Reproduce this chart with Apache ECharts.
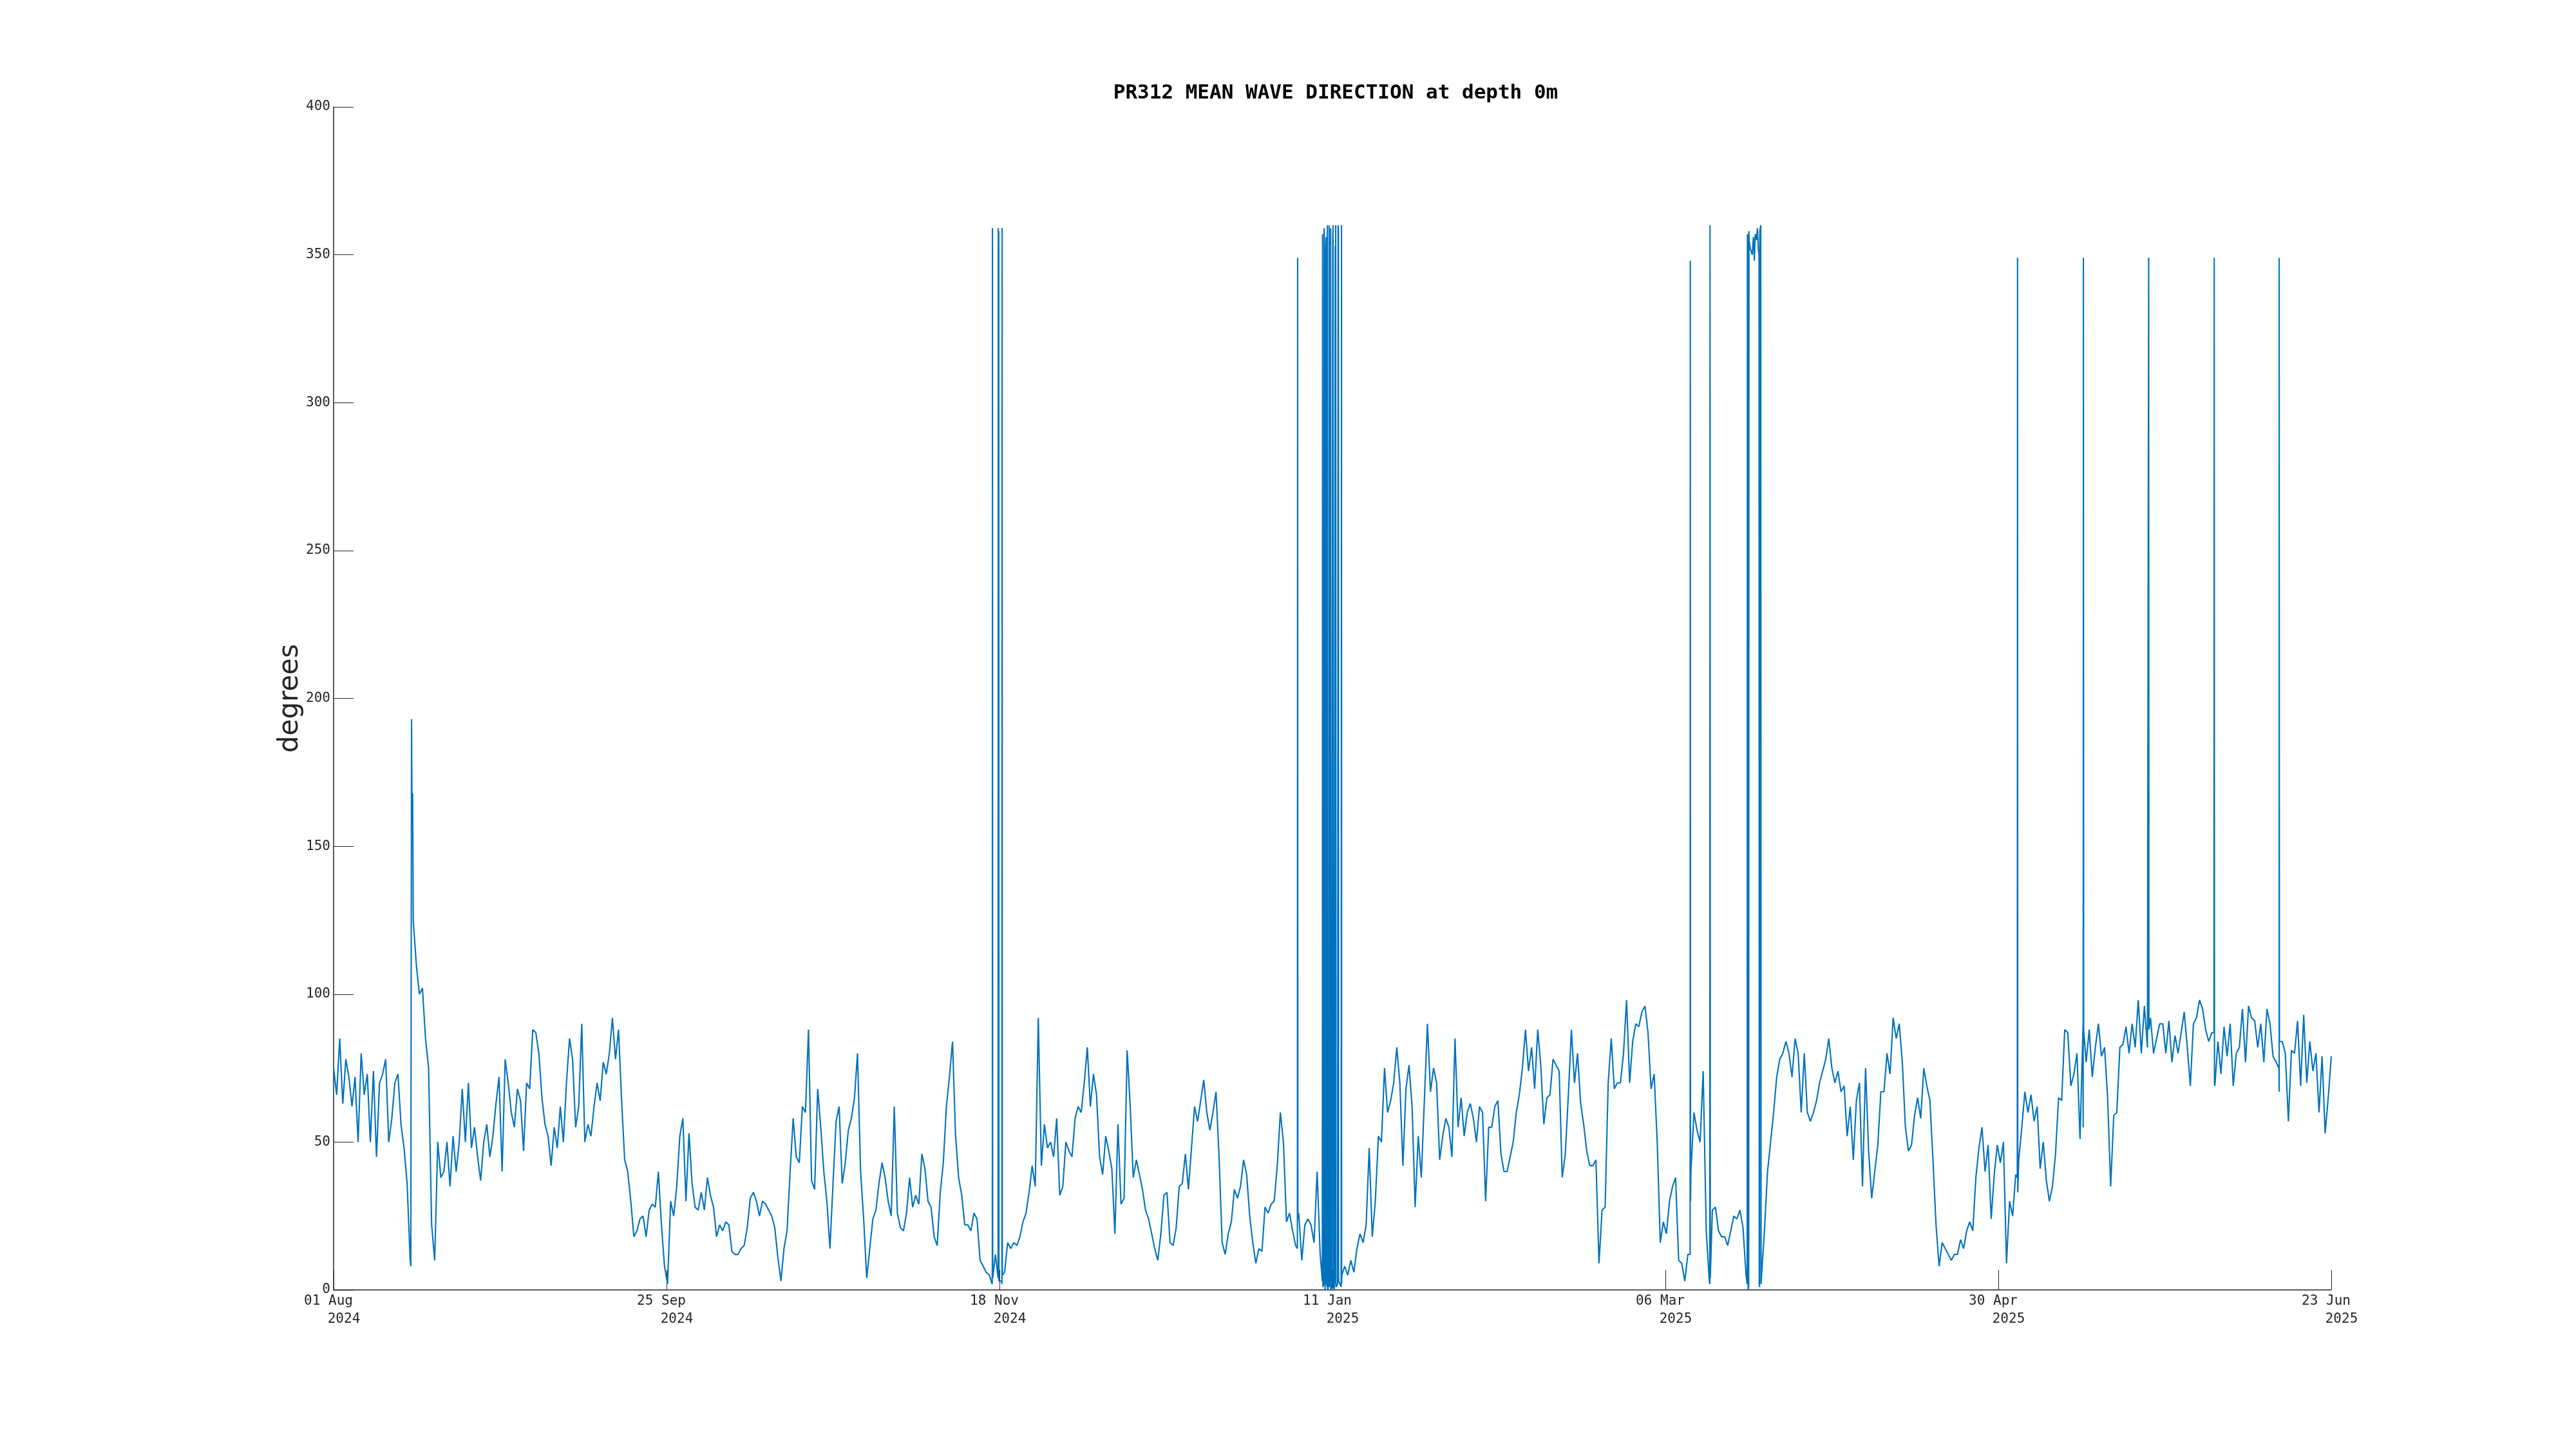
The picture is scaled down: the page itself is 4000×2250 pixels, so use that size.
<!DOCTYPE html>
<html><head><meta charset="utf-8">
<script src="https://cdn.jsdelivr.net/npm/echarts@6/dist/echarts.min.js"></script>
<style>html,body{margin:0;padding:0;background:#fff}#c{width:4000px;height:2250px}</style>
</head><body><div id="c"></div>
<script>
const chartTitle = 'PR312 MEAN WAVE DIRECTION at depth 0m';
const yName = 'degrees';
const tickDates = ['01 Aug','25 Sep','18 Nov','11 Jan','06 Mar','30 Apr','23 Jun'];
const tickYears = ['2024','2024','2024','2025','2025','2025','2025'];
const spanDays = 326;
const yTicks = [0,50,100,150,200,250,300,350,400];

// Base series, half-day samples (days 0 .. 326 from 01 Aug 2024)
const aug01_sep10 = [75,66,85,63,78,72,62,72,50,80,
 66,73,50,74,45,70,73,78,50,58,
 70,73,56,48,36,10,125,110,100,102,
 85,75,22,10,50,38,40,50,35,52,
 40,50,68,50,70,48,55,45,37,50,
 56,45,52,63,72,40,78,70,60,55,
 68,64,47,70,68,88,87,80,65,56,
 52,42,55,48,62,50,70,85,78,55,
 62];
const sep10_oct21 = [90,50,56,52,62,70,64,77,73,80,
 92,78,88,64,44,40,30,18,20,24,
 25,18,27,29,28,40,22,8,2,30,
 25,35,52,58,30,53,36,28,27,33,
 27,38,32,28,18,22,20,23,22,13,
 12,12,14,15,21,31,33,30,25,30,
 29,27,25,21,11,3,14,20,40,58,
 45,43,62,60,88,37,34,68,55,40,
 30,14];
const oct21_dec01 = [36,57,62,36,43,54,58,65,80,40,
 24,4,14,24,27,36,43,38,30,25,
 62,26,21,20,26,38,28,32,29,46,
 41,30,28,18,15,33,43,62,72,84,
 52,38,32,22,22,20,26,24,10,8,
 6,5,10,12,5,3,6,16,14,16,
 15,18,23,26,33,42,35,92,42,56,
 48,50,45,58,32,35,50,47,45,58,
 62,60];
const dec01_jan11 = [70,82,62,73,66,45,39,52,47,41,
 19,56,29,31,81,62,38,44,39,34,
 27,24,19,14,10,19,32,33,16,15,
 21,35,36,46,34,48,62,57,64,71,
 60,54,60,67,45,16,12,19,23,34,
 31,35,44,39,25,16,9,14,13,28,
 26,29,30,42,60,50,23,26,20,15,
 26,10,22,24,22,16,40,12,1,3,
 2,1];
const jan11_feb21 = [2,5,2,8,5,10,6,14,19,16,
 22,48,18,30,52,50,75,60,64,70,
 82,70,42,68,76,62,28,52,38,64,
 90,67,75,70,44,52,58,55,45,85,
 55,65,52,60,63,58,50,62,60,30,
 55,55,62,64,46,40,40,45,50,60,
 66,75,88,74,82,68,88,76,56,65,
 66,78,76,74,38,46,66,88,70,80,
 63,56];
const feb21_apr03 = [47,42,42,44,9,27,28,70,85,68,
 70,70,80,98,70,84,90,89,94,96,
 87,68,73,50,16,23,19,30,35,38,
 10,9,3,12,40,60,54,50,74,20,
 3,27,28,20,18,18,15,20,25,24,
 27,21,5,355,350,357,352,4,20,40,
 50,60,72,78,80,84,80,72,85,80,
 60,80,60,57,60,64,70,74,78,85,
 75,70];
const apr03_may14 = [74,67,69,52,62,44,64,70,35,75,
 47,31,40,49,67,67,80,73,92,85,
 90,77,55,47,49,59,65,58,75,69,
 64,44,22,8,16,14,12,10,12,12,
 17,14,20,23,20,38,48,55,40,49,
 24,39,49,43,50,9,30,25,39,44,
 55,67,60,66,57,62,41,50,37,30,
 35,46,65,64,88,87,69,73,80,51,
 90,77];
const may14_jun23 = [88,72,82,90,79,82,65,35,59,60,
 82,83,89,80,90,82,98,80,96,82,
 92,80,85,90,90,80,91,77,86,80,
 87,94,82,69,90,92,98,95,88,84,
 87,69,84,73,89,79,90,69,80,82,
 95,77,96,92,91,82,90,77,95,90,
 79,77,67,84,80,57,81,80,91,69,
 93,70,84,74,80,60,79,53,65,79];

// Short excursions (day, degrees): wrap-around spikes near 0/360 and the August peak
const spikesAug = [[12.6,8],[12.72,193],[12.8,160],[12.9,168]];
const spikesNov = [[107.48,2],[107.52,359],[107.56,4],[108.44,4],[108.47,359],[108.55,358],[108.58,3],[109.07,2],[109.1,359],[109.13,5]];
const spikesJan = [[157.28,14],[157.32,349],[157.36,24],
 [161.35,3],[161.39,357],[161.45,1],[161.6,2],[161.64,359],[161.7,354],[161.8,0],
 [161.93,352],[161.98,356],[162.05,2],[162.14,1],[162.17,360],[162.22,0],[162.42,2],
 [162.46,360],[162.52,1],[162.66,3],[162.7,359],[162.75,0],[162.9,1],[163.05,355],
 [163.1,360],[163.15,2],[163.3,0],[163.45,353],[163.53,360],[163.58,1],[163.85,2],
 [163.92,360],[163.98,358],[164.02,3],[164.42,1],[164.48,360],[164.53,5]];
const spikesMar = [[221.37,12],[221.4,348],[221.44,30],[224.58,2],[224.62,360],[224.66,4],
 [230.68,2],[230.72,357],[230.8,354],[230.85,0],[230.93,1],[230.97,358],[231.2,352],
 [231.7,356],[231.85,348],[232.2,355],[232.35,359],[232.62,350],[232.65,2],[232.7,1],
 [232.74,358],[232.9,360],[232.95,2]];
const spikesLate = [[274.76,38],[274.8,349],[274.84,33],[285.51,55],[285.55,349],[285.59,88],
 [296.16,82],[296.2,349],[296.24,88],[306.86,87],[306.9,349],[306.94,70],
 [317.46,75],[317.5,349],[317.54,84]];

const base = [].concat(aug01_sep10, sep10_oct21, oct21_dec01, dec01_jan11, jan11_feb21, feb21_apr03, apr03_may14, may14_jun23);
const stepDays = spanDays / (base.length - 1);
const pts = base.map((v, i) => [i * stepDays * 24, v]);
[].concat(spikesAug, spikesNov, spikesJan, spikesMar, spikesLate).forEach(p => pts.push([p[0] * 24, p[1]]));
pts.sort((a, b) => a[0] - b[0]);

const spanHours = spanDays * 24;
const tickStep = spanHours / (tickDates.length - 1);
const ink = '#262626';
const mono = 'DejaVu Sans Mono';

const chart = echarts.init(document.getElementById('c'), null, {renderer: 'canvas'});
chart.setOption({
  animation: false,
  backgroundColor: '#ffffff',
  title: {
    text: chartTitle, left: 2069, top: 122, textAlign: 'center',
    textStyle: {fontFamily: mono, fontWeight: 'bold', fontSize: 31, color: '#000', lineHeight: 36}
  },
  grid: {left: 518, right: 380, top: 166, bottom: 247, containLabel: false},
  xAxis: {
    type: 'value', min: 0, max: spanHours, interval: tickStep,
    axisLine: {show: true, lineStyle: {color: ink, width: 1.5}},
    axisTick: {show: true, inside: true, length: 31, lineStyle: {color: ink, width: 1}},
    splitLine: {show: false},
    axisLabel: {
      margin: 4, showMinLabel: true, showMaxLabel: true, hideOverlap: false,
      formatter: function (v) { const i = Math.round(v / tickStep); return '{a|' + tickDates[i] + '}\n{b|' + tickYears[i] + '}'; },
      rich: {
        a: {fontFamily: mono, fontSize: 21, color: ink, lineHeight: 27.5, align: 'center', padding: [0, 16, 0, 0]},
        b: {fontFamily: mono, fontSize: 21, color: ink, lineHeight: 27.5, align: 'center', padding: [0, 0, 0, 32]}
      }
    }
  },
  yAxis: {
    type: 'value', min: yTicks[0], max: yTicks[yTicks.length - 1], interval: yTicks[1] - yTicks[0],
    name: yName, nameLocation: 'middle', nameGap: 46, nameMoveOverlap: false,
    nameTextStyle: {fontFamily: 'DejaVu Sans', fontSize: 42, color: ink},
    axisLine: {show: true, lineStyle: {color: ink, width: 1.5}},
    axisTick: {show: true, inside: true, length: 31, lineStyle: {color: ink, width: 1}},
    splitLine: {show: false},
    axisLabel: {margin: 5, fontFamily: mono, fontSize: 21, color: ink}
  },
  series: [{
    type: 'line', data: pts, showSymbol: false, symbol: 'none',
    lineStyle: {color: '#0072BD', width: 2.1}, itemStyle: {color: '#0072BD'},
    clip: true
  }]
});
</script>
</body></html>
